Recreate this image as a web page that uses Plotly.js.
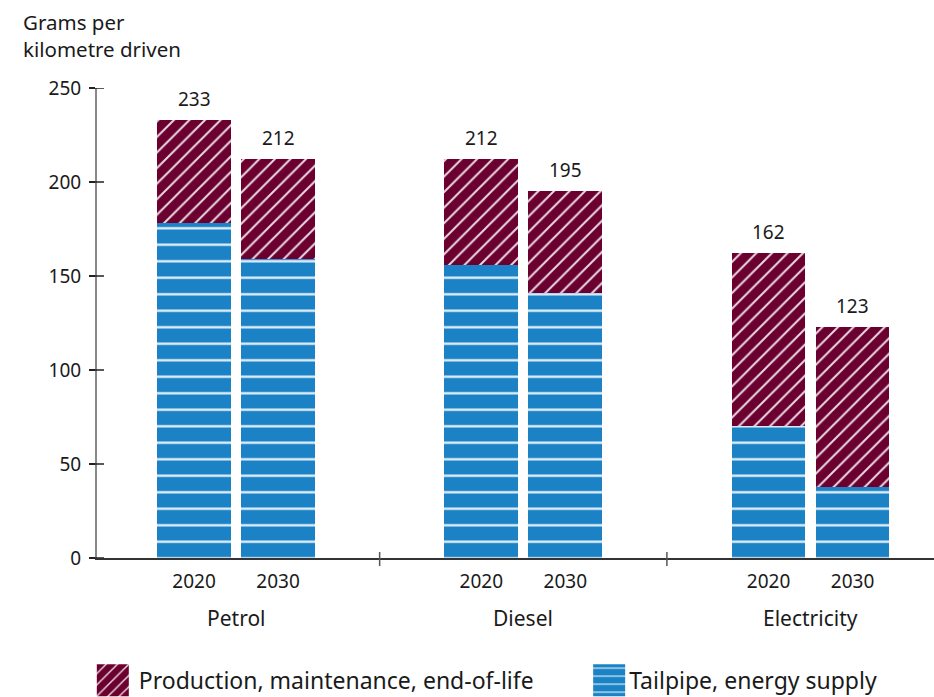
<!DOCTYPE html>
<html>
<head>
<meta charset="utf-8">
<script src="https://cdn.plot.ly/plotly-3.0.1.min.js"></script>
<style>html,body{margin:0;padding:0;background:#fff}#chart{width:934px;height:697px}</style>
</head>
<body>
<div id="chart"></div>
<script>
// ---- data ----
var groups = ['Petrol', 'Diesel', 'Electricity'];
var years = ['2020', '2030'];
var tailpipe = [178, 159, 156, 141, 70, 38];
var production = [55, 53, 56, 54, 92, 85];
var totals = [233, 212, 212, 195, 162, 123];
var yTicks = [0, 50, 100, 150, 200, 250];
var seriesNames = ['Production, maintenance, end-of-life', 'Tailpipe, energy supply'];

// ---- layout constants ----
var GROUP_STEP = 3.42;
var FONT = 'Noto Sans, sans-serif';
var BLUE = '#1b82c5';
var MAROON = '#6b0030';
var INK = '#1a1a1a';

var xs = [], ticktext = [];
groups.forEach(function (g, gi) {
  years.forEach(function (y, yi) {
    xs.push(gi * GROUP_STEP + yi);
    ticktext.push(y);
  });
});

var traces = [
  {
    type: 'bar', name: seriesNames[1], x: xs, y: tailpipe, width: 0.88, legend: 'legend2',
    marker: { color: BLUE, line: { width: 0 },
      pattern: { shape: '-', fillmode: 'overlay', fgcolor: '#ffffff', fgopacity: 0.9, size: 16.5, solidity: 0.14 } },
    hoverinfo: 'skip'
  },
  {
    type: 'bar', name: seriesNames[0], x: xs, y: production, width: 0.88, legend: 'legend',
    marker: { color: MAROON, line: { width: 0 },
      pattern: { shape: '/', fillmode: 'overlay', fgcolor: '#ffffff', fgopacity: 0.85, size: 11, solidity: 0.18 } },
    hoverinfo: 'skip'
  }
];

var shapes = [];
yTicks.forEach(function (v) {
  shapes.push({ type: 'line', xref: 'paper', xsizemode: 'pixel', xanchor: 0, x0: -6, x1: 7,
    yref: 'y', y0: v, y1: v, line: { color: '#222', width: 1.5 } });
});
for (var gi = 0; gi < groups.length - 1; gi++) {
  var d = (gi * GROUP_STEP + 1 + (gi + 1) * GROUP_STEP) / 2;
  shapes.push({ type: 'line', xref: 'x', x0: d, x1: d, yref: 'paper', ysizemode: 'pixel', yanchor: 0,
    y0: -8, y1: 6, line: { color: '#555', width: 1.5 } });
}

var annotations = [{
  xref: 'paper', yref: 'paper', x: 0, y: 1, xanchor: 'left', yanchor: 'top', xshift: -76, yshift: 82,
  text: 'Grams per<br>kilometre driven', showarrow: false, align: 'left',
  font: { family: FONT, size: 20.5, color: INK }
}];
groups.forEach(function (g, gi) {
  annotations.push({ xref: 'x', yref: 'paper', x: gi * GROUP_STEP + 0.5, y: 0, yanchor: 'middle',
    yshift: -60, text: g, showarrow: false, font: { family: FONT, size: 21, color: INK } });
});
xs.forEach(function (x, i) {
  annotations.push({ xref: 'x', yref: 'y', x: x, y: totals[i], yanchor: 'bottom', yshift: 6,
    text: String(totals[i]), showarrow: false, font: { family: FONT, size: 19, color: INK } });
});

var layout = {
  width: 934, height: 697,
  margin: { l: 97, r: 0, t: 88, b: 139, autoexpand: false },
  paper_bgcolor: '#fff', plot_bgcolor: '#fff',
  barmode: 'stack',
  font: { family: FONT, size: 19, color: INK },
  xaxis: {
    range: [-1.155, 8.81], tickvals: xs, ticktext: ticktext, ticks: '',
    showgrid: false, zeroline: false, showline: true, linecolor: '#333', linewidth: 1.5,
    tickfont: { family: FONT, size: 19, color: INK }, ticklabelstandoff: 6
  },
  yaxis: {
    range: [0, 250], tickvals: yTicks, ticks: 'outside', ticklen: 6, tickwidth: 1.5, tickcolor: '#222',
    showgrid: false, zeroline: false, showline: true, linecolor: '#888', linewidth: 2,
    tickfont: { family: FONT, size: 19, color: INK }, ticklabelstandoff: 4
  },
  showlegend: true,
  legend: {
    orientation: 'h', x: -0.005, xanchor: 'left', y: -0.26, yanchor: 'middle',
    font: { family: FONT, size: 23, color: INK }, bgcolor: 'rgba(0,0,0,0)'
  },
  legend2: {
    orientation: 'h', x: 0.588, xanchor: 'left', y: -0.26, yanchor: 'middle',
    font: { family: FONT, size: 23, color: INK }, bgcolor: 'rgba(0,0,0,0)'
  },
  shapes: shapes, annotations: annotations
};

function fixLegend(gd) {
  gd.querySelectorAll('.legendpoints path').forEach(function (p) {
    p.setAttribute('d', 'M16,16H-16V-16H16Z');
  });
  gd.querySelectorAll('.legendtext').forEach(function (t) {
    var shift = t.textContent.indexOf('Tailpipe') === 0 ? 44 : 46;
    t.setAttribute('x', String(shift));
    t.querySelectorAll('tspan').forEach(function (s) {
      if (s.hasAttribute('x')) s.setAttribute('x', String(shift));
    });
  });
}

Plotly.newPlot('chart', traces, layout, { displayModeBar: false, staticPlot: true }).then(function (gd) {
  fixLegend(gd);
  setTimeout(function () { fixLegend(gd); }, 50);
  setTimeout(function () { fixLegend(gd); }, 300);
});
</script>
</body>
</html>
